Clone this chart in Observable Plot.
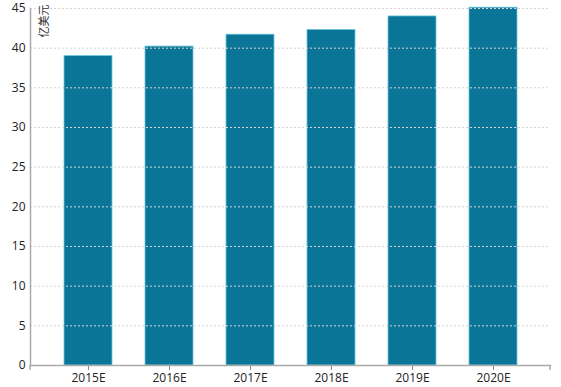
<!DOCTYPE html>
<html>
<head>
<meta charset="utf-8">
<script src="https://cdn.jsdelivr.net/npm/d3@7"></script>
<script src="https://cdn.jsdelivr.net/npm/@observablehq/plot@0.6"></script>
<style>
  html, body { margin: 0; padding: 0; background: #fff; }
  #chart svg { display: block; }
</style>
</head>
<body>
<div id="chart"></div>
<script>
const years = ["2015E", "2016E", "2017E", "2018E", "2019E", "2020E"];
const values = [39.0, 40.2, 41.7, 42.3, 44.0, 45.1];
const yTicks = [0, 5, 10, 15, 20, 25, 30, 35, 40, 45];
const yLabel = "亿美元";

const data = years.map((y, i) => ({year: y, value: values[i]}));

const endTicks = (index, scales, values, dims) => {
  const g = document.createElementNS("http://www.w3.org/2000/svg", "g");
  const y0 = dims.height - dims.marginBottom;
  for (const x of [dims.marginLeft, dims.width - dims.marginRight]) {
    const l = document.createElementNS("http://www.w3.org/2000/svg", "line");
    l.setAttribute("x1", x); l.setAttribute("x2", x);
    l.setAttribute("y1", y0); l.setAttribute("y2", y0 + 5);
    l.setAttribute("stroke", "#aaa"); l.setAttribute("stroke-width", 1.5);
    g.appendChild(l);
  }
  return g;
};

const chart = Plot.plot({
  width: 561,
  height: 387,
  marginLeft: 30,
  marginRight: 11,
  marginTop: 8,
  marginBottom: 22,
  style: {fontFamily: "'Open Sans', 'Noto Sans CJK SC', sans-serif", fontSize: "12px", color: "#222"},
  x: {domain: years, padding: 0.41, label: null},
  y: {domain: [0, 45], label: null},
  marks: [
    Plot.barY(data, {x: "year", y: "value", fill: "#0b7598", stroke: "#6cc6dd", strokeWidth: 0.8}),
    Plot.gridY(yTicks.filter(d => d > 0), {stroke: "#d4d4d4", strokeOpacity: 1, strokeDasharray: "2,2"}),
    Plot.axisY(yTicks, {tickSize: 0, tickPadding: 5, label: null, fontSize: 12, fill: "#222"}),
    Plot.axisX({tickSize: 5, stroke: "#888", tickPadding: 3, label: null, fontSize: 12, fill: "#222"}),
    Plot.frame({anchor: "left", stroke: "#aaa", strokeWidth: 1.5}),
    Plot.frame({anchor: "bottom", stroke: "#aaa", strokeWidth: 1.5}),
    endTicks,
    Plot.text([yLabel], {frameAnchor: "top-left", dx: 10, dy: -4, rotate: -90, textAnchor: "end", fontSize: 11, fill: "#333", fontFamily: "'Noto Sans CJK SC', sans-serif"})
  ]
});
document.getElementById("chart").appendChild(chart);
</script>
</body>
</html>
